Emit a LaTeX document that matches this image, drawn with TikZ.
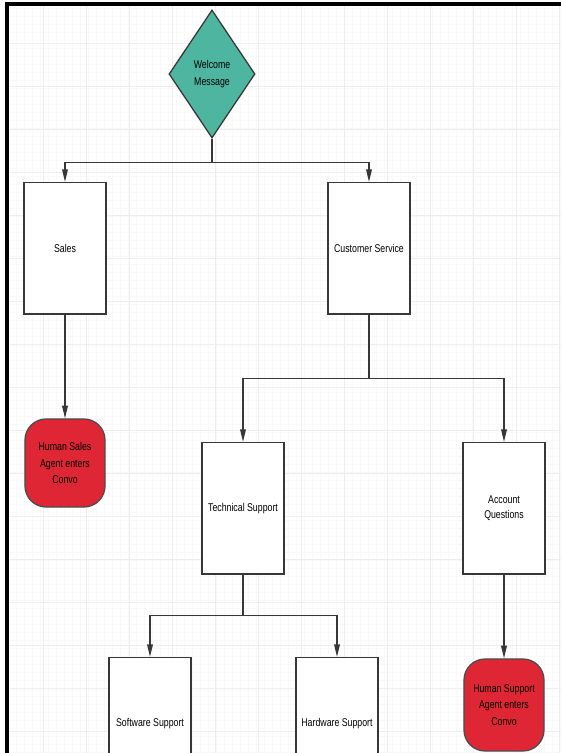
\documentclass[tikz,border=0pt]{standalone}
\usepackage{fontspec}
\setmainfont{Liberation Sans}
\newfontfamily\narrowfont[FakeStretch=0.78]{Liberation Sans}
\usetikzlibrary{shapes.geometric, arrows.meta, positioning}
\definecolor{greet}{RGB}{78,182,160}
\definecolor{agent}{RGB}{222,38,52}
\definecolor{edge}{RGB}{55,55,55}

\begin{document}
\begin{tikzpicture}[
    x=0.025cm, y=-0.025cm,
    decision/.style={diamond, draw=edge, line width=0.9pt, fill=greet, minimum width=2.15cm, minimum height=3.2cm, inner sep=0pt, align=center, font=\narrowfont\fontsize{8}{12}\selectfont},
    menu/.style={rectangle, draw=edge, line width=1pt, fill=white, minimum width=2.05cm, minimum height=3.28cm, align=center, font=\narrowfont\fontsize{8}{11}\selectfont, anchor=north},
    agentbox/.style={rectangle, rounded corners=15pt, draw=black!70, line width=0.9pt, fill=agent, minimum width=2cm, minimum height=2.2cm, align=center, font=\narrowfont\fontsize{8}{12}\selectfont},
    link/.style={draw=edge, line width=1pt},
    arrow/.style={link, -{Triangle[length=9pt,width=4pt]}}
]
\clip (0,0) rectangle (561,753);
\useasboundingbox (0,0) rectangle (561,753);
\fill[white] (0,0) rectangle (561,753);
\draw[gray!5, line width=0.3pt, step=0.2cm] (7,4) grid (561,753);
\draw[gray!14, line width=0.5pt, step=1.075cm] (7,4) grid (561,753);
\draw[black, line width=2.2pt] (7,753) -- (7,4) -- (561,4);

% top level
\node[decision] (welcome) at (212,74) {Welcome\\Message};
\node[menu] (sales) at (65,182) {Sales};
\node[menu] (service) at (369,182) {Customer Service};
\node[agentbox] (salesagent) at (65,463) {Human Sales\\Agent enters\\Convo};

% customer service branch
\node[menu] (tech) at (243,442) {Technical Support};
\node[menu] (account) at (504,442) {Account\\Questions};
\node[agentbox, minimum height=2.3cm] (supportagent) at (504,705) {Human Support\\Agent enters\\Convo};

% technical support branch
\node[menu] (software) at (150,657) {Software Support};
\node[menu] (hardware) at (337,657) {Hardware Support};

% connectors
\draw[link] (welcome.south) -- ++(0,24) coordinate (split1);
\draw[arrow] (split1) -| (sales.north);
\draw[arrow] (split1) -| (service.north);
\draw[arrow] (sales.south) -- (salesagent.north);
\draw[link] (service.south) -- ++(0,64) coordinate (split2);
\draw[arrow] (split2) -| (tech.north);
\draw[arrow] (split2) -| (account.north);
\draw[arrow] (account.south) -- (supportagent.north);
\draw[link] (tech.south) -- ++(0,41) coordinate (split3);
\draw[arrow] (split3) -| (software.north);
\draw[arrow] (split3) -| (hardware.north);

\end{tikzpicture}
\end{document}
